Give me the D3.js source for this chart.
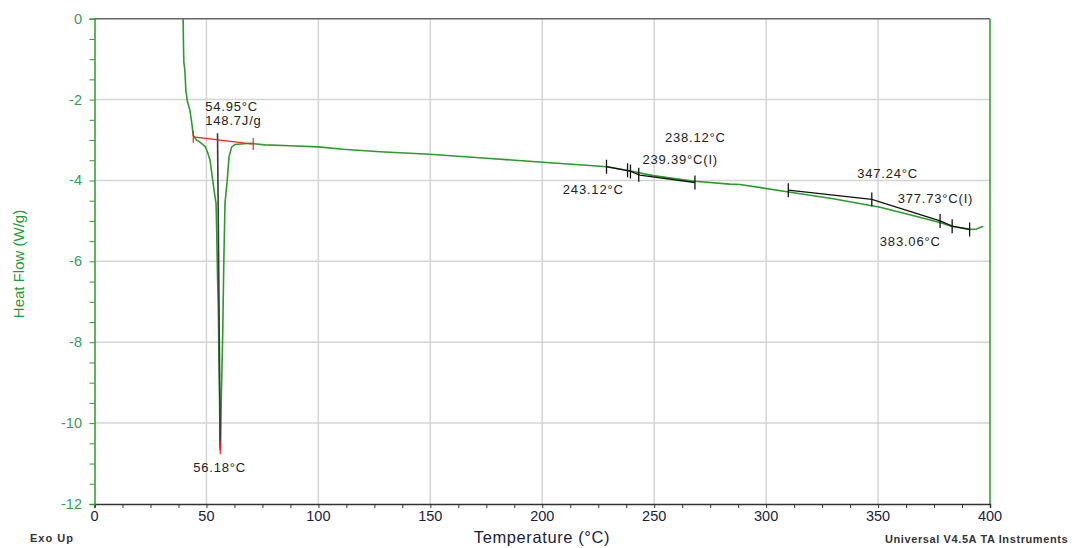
<!DOCTYPE html>
<html>
  <head>
    <title>DSC Heat Flow</title>
    <script src="https://d3js.org/d3.v7.min.js"></script>
    <style>
      body { margin: 0; background: #fff; }
      text { font-family: "Liberation Sans", Arial, sans-serif; }
    </style>
  </head>
  <body>
    <div id="chart"></div>
    <script>
      // heat flow curve
      var temps = [39.6, 39.7, 39.9, 40.4, 40.8, 41.5, 42.6, 43.5, 44.1, 45.5, 47.1, 49.4, 50.5, 51.6,
        52.6, 53.4, 54.3, 54.6, 55.0, 55.3, 55.6, 55.9, 56.1, 56.3, 56.6, 57.0, 57.3, 57.8, 58.3, 59.3,
        60.1, 61.3, 62.8, 69.5, 76.2, 87.3, 100, 111, 127.5, 149.8, 175, 200.4, 221.3, 228.7, 239,
        249.6, 268, 283.8, 288.3, 310.8, 330, 350.9, 364.2, 377.6, 382.8, 390.9, 394, 397];
      var heatFlow = [0, -0.5, -1.07, -1.3, -1.77, -2.05, -2.26, -2.6, -2.88, -3.0, -3.05, -3.16, -3.3, -3.49,
        -3.91, -4.24, -4.57, -5.31, -6.5, -7.1, -8.5, -9.6, -10.6, -10.6, -9.5, -8.5, -7.7, -5.88, -4.56, -3.99,
        -3.41, -3.17, -3.11, -3.08, -3.12, -3.14, -3.17, -3.23, -3.29, -3.35, -3.45, -3.55, -3.63, -3.66, -3.76,
        -3.88, -4.02, -4.09, -4.10, -4.29, -4.45, -4.66, -4.85, -5.04, -5.13, -5.21, -5.2, -5.13];

      // analysis lines
      var meltBaseline = [[44.1, -2.92], [70.9, -3.10]];
      var meltDrop = [[54.95, -2.83], [56.18, -10.67]];
      var glass1 = [[228.7, -3.66], [239.2, -3.77], [243.6, -3.87], [268.2, -4.05]];
      var glass1Ticks = [[228.7, -3.66], [238.1, -3.75], [239.4, -3.78], [243.1, -3.86], [268.2, -4.05]];
      var glass2 = [[309.9, -4.24], [347.2, -4.47], [377.7, -5.0], [383.1, -5.13], [390.9, -5.21]];
      var glass2Ticks = [[309.9, -4.24], [347.2, -4.47], [377.7, -5.0], [383.1, -5.13], [390.9, -5.21]];

      // annotation text: label, temperature, heat flow at its left baseline
      var labels = [
        ["54.95°C", 49.5, -2.27],
        ["148.7J/g", 49.5, -2.63],
        ["56.18°C", 44.1, -11.21],
        ["238.12°C", 254.8, -3.05],
        ["239.39°C(I)", 244.8, -3.6],
        ["243.12°C", 209.2, -4.34],
        ["347.24°C", 340.7, -3.93],
        ["377.73°C(I)", 358.8, -4.55],
        ["383.06°C", 350.8, -5.61]
      ];

      var xTicks = [0, 50, 100, 150, 200, 250, 300, 350, 400];
      var yTicks = [0, -2, -4, -6, -8, -10, -12];

      draw();

      function draw() {
      var W = 1083, H = 548;
      var pLeft = 94.5, pRight = 990, pTop = 18.7, pBottom = 504;

      var svg = d3.select('#chart').append('svg')
        .attr('width', W).attr('height', H);

      var x = d3.scaleLinear().domain([0, 400]).range([pLeft, pRight]);
      var y = d3.scaleLinear().domain([0, -12]).range([pTop, pBottom]);

      svg.append('clipPath').attr('id', 'plot')
        .append('rect').attr('x', pLeft).attr('y', pTop)
        .attr('width', pRight - pLeft).attr('height', pBottom - pTop);

      // grid
      svg.append('g').selectAll('line')
        .data(xTicks.filter(function (d) { return d > 0 && d < 400; }))
        .enter().append('line')
        .attr('x1', function (d) { return x(d); }).attr('x2', function (d) { return x(d); })
        .attr('y1', pTop).attr('y2', pBottom)
        .attr('stroke', '#d4d4d4').attr('stroke-width', 1.5);
      svg.append('g').selectAll('line')
        .data(yTicks.filter(function (d) { return d < 0 && d > -12; }))
        .enter().append('line')
        .attr('y1', function (d) { return y(d); }).attr('y2', function (d) { return y(d); })
        .attr('x1', pLeft).attr('x2', pRight)
        .attr('stroke', '#d4d4d4').attr('stroke-width', 1.5);

      // frame
      svg.append('line').attr('x1', pLeft).attr('x2', pRight).attr('y1', pTop).attr('y2', pTop)
        .attr('stroke', '#666').attr('stroke-width', 1.5);
      svg.append('line').attr('x1', pRight).attr('x2', pRight).attr('y1', pTop).attr('y2', pBottom)
        .attr('stroke', '#2a9a2a').attr('stroke-width', 1.5);

      // axes
      var xAxis = svg.append('g').attr('transform', 'translate(0,' + pBottom + ')')
        .call(d3.axisBottom(x).tickValues(d3.range(0, 401, 12.5)).tickSize(4).tickFormat(''));
      xAxis.select('.domain').attr('stroke', '#333').attr('stroke-width', 1.5);
      xAxis.selectAll('.tick line').attr('stroke', '#333');
      svg.append('g').selectAll('text').data(xTicks).enter().append('text')
        .attr('x', function (d) { return x(d); }).attr('y', 521)
        .attr('text-anchor', 'middle').attr('font-size', 14.5).attr('fill', '#1c1c3c')
        .text(function (d) { return d; });

      var yAxis = svg.append('g').attr('transform', 'translate(' + pLeft + ',0)')
        .call(d3.axisLeft(y).tickValues(d3.range(0, -12.01, -0.5)).tickSize(5).tickFormat(''));
      yAxis.select('.domain').attr('stroke', '#2a9a2a').attr('stroke-width', 1.5);
      yAxis.selectAll('.tick line').attr('stroke', '#2a9a2a');
      svg.append('g').selectAll('text').data(yTicks).enter().append('text')
        .attr('x', 82).attr('y', function (d) { return y(d) + 5; })
        .attr('text-anchor', 'end').attr('font-size', 14.5).attr('fill', '#3a9a5a')
        .text(function (d) { return d; });

      var plot = svg.append('g').attr('clip-path', 'url(#plot)');
      var line = d3.line().x(function (d) { return x(d[0]); }).y(function (d) { return y(d[1]); });

      var curve = temps.map(function (t, i) { return [t, heatFlow[i]]; });
      plot.append('path').attr('d', line(curve))
        .attr('fill', 'none').attr('stroke', '#2c9a2c').attr('stroke-width', 1.6);

      plot.append('path').attr('d', line(meltDrop))
        .attr('fill', 'none').attr('stroke', '#3a3a3a').attr('stroke-width', 1.6);
      plot.append('path').attr('d', line(meltBaseline))
        .attr('fill', 'none').attr('stroke', '#ff2020').attr('stroke-width', 1.2);
      plot.selectAll('.redtick').data(meltBaseline.concat([[56.18, -10.62]])).enter().append('line')
        .attr('x1', function (d) { return x(d[0]); }).attr('x2', function (d) { return x(d[0]); })
        .attr('y1', function (d) { return y(d[1]) - 6; }).attr('y2', function (d) { return y(d[1]) + 6; })
        .attr('stroke', '#ff2020').attr('stroke-width', 1.2);

      [glass1, glass2].forEach(function (g) {
        plot.append('path').attr('d', line(g))
          .attr('fill', 'none').attr('stroke', '#111').attr('stroke-width', 1.3);
      });
      plot.selectAll('.blacktick').data(glass1Ticks.concat(glass2Ticks)).enter().append('line')
        .attr('x1', function (d) { return x(d[0]); }).attr('x2', function (d) { return x(d[0]); })
        .attr('y1', function (d) { return y(d[1]) - 7; }).attr('y2', function (d) { return y(d[1]) + 7; })
        .attr('stroke', '#111').attr('stroke-width', 1.3);

      svg.append('g').selectAll('text').data(labels).enter().append('text')
        .attr('x', function (d) { return x(d[1]); }).attr('y', function (d) { return y(d[2]); })
        .attr('font-size', 13).attr('letter-spacing', 0.8).attr('fill', '#222')
        .text(function (d) { return d[0]; });

      // titles
      svg.append('text').attr('x', 542).attr('y', 543).attr('text-anchor', 'middle')
        .attr('font-size', 16.5).attr('letter-spacing', 0.6).attr('fill', '#1c1c3c')
        .text('Temperature (°C)');
      svg.append('text').attr('transform', 'translate(24,264) rotate(-90)')
        .attr('text-anchor', 'middle').attr('font-size', 15).attr('fill', '#1f9a3a')
        .text('Heat Flow (W/g)');
      svg.append('text').attr('x', 30).attr('y', 542)
        .attr('font-size', 11).attr('font-weight', 'bold').attr('letter-spacing', 1).attr('fill', '#333')
        .text('Exo Up');
      svg.append('text').attr('x', 885).attr('y', 543)
        .attr('font-size', 11).attr('font-weight', 'bold').attr('letter-spacing', 0.6).attr('fill', '#333')
        .text('Universal V4.5A TA Instruments');
      }
    </script>
  </body>
</html>
